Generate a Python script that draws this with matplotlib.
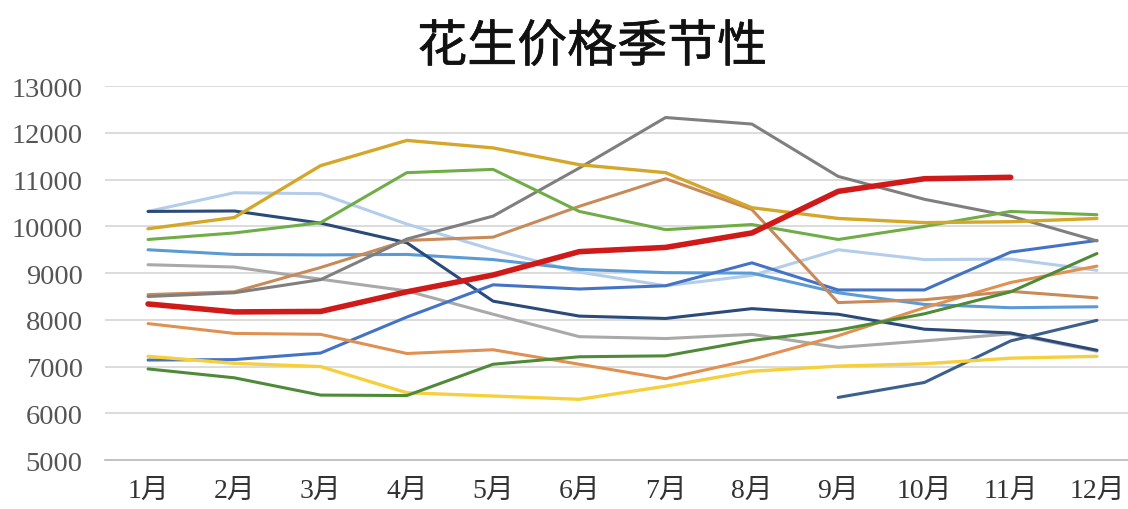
import numpy as np
import matplotlib
matplotlib.use("Agg")
from matplotlib import pyplot as plt
from matplotlib import patheffects

nan = np.nan
months = ["1月", "2月", "3月", "4月", "5月", "6月", "7月", "8月", "9月", "10月", "11月", "12月"]

# monthly peanut prices, one list per season
s_lightblue = [10320, 10720, 10700, 10050, 9500, 9020, 8730, 8950, 9500, 9290, 9300, 9060]
s_navy = [10320, 10330, 10070, 9650, 8400, 8080, 8030, 8240, 8120, 7800, 7720, 7350]
s_gold = [9950, 10190, 11300, 11840, 11680, 11320, 11150, 10400, 10170, 10080, 10100, 10170]
s_green = [9720, 9860, 10080, 11150, 11220, 10320, 9930, 10040, 9720, 10000, 10320, 10250]
s_steel = [9500, 9400, 9390, 9400, 9290, 9080, 9010, 9000, 8580, 8330, 8260, 8280]
s_gray = [9180, 9130, 8870, 8620, 8120, 7640, 7600, 7690, 7410, 7550, 7700, 7330]
s_orange = [8540, 8600, 9120, 9700, 9770, 10430, 11020, 10360, 8370, 8430, 8610, 8470]
s_darkgray = [8500, 8580, 8860, 9730, 10220, 11250, 12330, 12190, 11070, 10580, 10220, 9690]
s_brown = [7920, 7710, 7690, 7280, 7360, 7050, 6740, 7150, 7660, 8260, 8800, 9150]
s_yellow = [7220, 7070, 7000, 6440, 6370, 6300, 6580, 6900, 7010, 7060, 7180, 7220]
s_blue = [7140, 7150, 7290, 8060, 8750, 8660, 8730, 9220, 8640, 8640, 9450, 9700]
s_darkgreen = [6950, 6760, 6390, 6380, 7050, 7210, 7230, 7560, 7780, 8130, 8600, 9420]
s_slate = [nan, nan, nan, nan, nan, nan, nan, nan, 6340, 6660, 7550, 7990]
s_current = [8340, 8170, 8180, 8600, 8960, 9460, 9550, 9860, 10750, 11020, 11050, nan]

series = [
    (s_lightblue, "#B4CDEA", 2.2),
    (s_gray, "#A9A9A9", 2.2),
    (s_steel, "#5B9BD5", 2.2),
    (s_navy, "#2A4A7A", 2.2),
    (s_blue, "#4472C4", 2.2),
    (s_slate, "#3C5F8E", 2.2),
    (s_brown, "#E09050", 2.2),
    (s_orange, "#C98A5A", 2.2),
    (s_darkgray, "#7F7F7F", 2.2),
    (s_yellow, "#F5D03C", 2.4),
    (s_darkgreen, "#4F8A38", 2.2),
    (s_green, "#70AD47", 2.2),
    (s_gold, "#D4A62A", 2.4),
    (s_current, "#D01A1A", 4.0),
]

fig = plt.figure(figsize=(11.28, 5.10), dpi=100)
ax = fig.add_axes([0.093, 0.096, 0.907, 0.733])

x = np.arange(len(months))
for vals, color, lw in series:
    ax.plot(x, vals, color=color, linewidth=lw, solid_joinstyle="round",
            solid_capstyle="round", zorder=3)

ax.set_xlim(-0.5, 11.36)
ax.set_ylim(5000, 13000)
ax.set_yticks(np.arange(5000, 13001, 1000))
ax.set_xticks(x)
ax.set_xticklabels(months, family=["Liberation Serif", "Noto Sans CJK SC"], fontsize=20, color="#333333")
for lab in ax.get_yticklabels():
    lab.set_family("Liberation Serif")
    lab.set_fontsize(20.5)
    lab.set_color("#555555")

ax.yaxis.grid(True, color="#D9D9D9", linewidth=1.3, zorder=0)
ax.tick_params(length=0)
ax.tick_params(axis="y", pad=16)
ax.tick_params(axis="x", pad=13)
for side in ["top", "right", "left"]:
    ax.spines[side].set_visible(False)
ax.spines["bottom"].set_color("#BFBFBF")
ax.spines["bottom"].set_linewidth(1.3)

title = fig.text(0.525, 0.905, "花生价格季节性", ha="center", va="center",
                 family=["Noto Sans CJK SC"], fontsize=36, color="#111111")
title.set_path_effects([patheffects.withStroke(linewidth=0.45, foreground="#111111")])

fig.savefig("out.png", dpi=100, facecolor="white")
